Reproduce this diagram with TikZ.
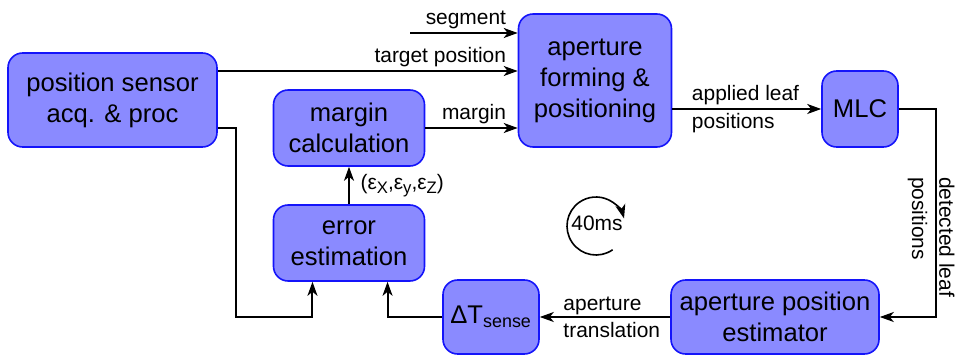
\documentclass[tikz,border=0pt]{standalone}
\usepackage{fontspec}
\setmainfont{Liberation Sans}
\usetikzlibrary{arrows.meta}

\definecolor{boxfill}{RGB}{138,138,255}
\definecolor{boxline}{RGB}{20,20,250}

\newcommand{\lowtext}[1]{\raisebox{-0.4ex}{\fontsize{12.5}{12.5}\selectfont #1}}

\tikzset{every picture/.style={line width=1.5pt}}
\tikzset{
  blockbox/.style={draw=boxline, fill=boxfill, line width=1.2pt, rounded corners=11pt, align=center, inner sep=0pt, font=\fontsize{19.2}{23.3}\selectfont},
  lbl/.style={inner sep=2pt, font=\fontsize{15.7}{20.5}\selectfont},
  flow/.style={-{Stealth[length=10.5pt,width=7.5pt,inset=3pt]}}
}

\begin{document}
\begin{tikzpicture}[x=0.75pt,y=0.75pt,yscale=-1,xscale=1]
	\useasboundingbox (0,0) rectangle (955,356);

	%Blocks
	\node[blockbox, minimum width=156.75pt, minimum height=70.5pt] (sensor) at (112.5,100) {position sensor\\acq. \& proc};
	\node[blockbox, minimum width=113.25pt, minimum height=57pt] (margin) at (349,128) {margin\\calculation};
	\node[blockbox, minimum width=114.75pt, minimum height=99.75pt] (aperture) at (595,80.5) {aperture\\forming \&\\positioning};
	\node[blockbox, minimum width=57pt, minimum height=57pt] (mlc) at (860,109) {MLC};
	\node[blockbox, minimum width=113.25pt, minimum height=57pt] (error) at (349,243) {error\\estimation};
	\node[blockbox, minimum width=72pt, minimum height=55.5pt] (deltat) at (491,317) {ΔT\textsubscript{sense}};
	\node[blockbox, minimum width=156pt, minimum height=55.5pt] (estimator) at (775,317) {aperture position\\estimator};

	%Inputs of aperture block
	\coordinate (seg) at (410,33);
	\draw[flow] (seg) -- (seg -| aperture.west) node[lbl, pos=1, anchor=south east, xshift=-6pt] {segment};
	\draw[flow] (sensor.east |- 0,71) -- (aperture.west |- 0,71) node[lbl, pos=1, anchor=south east, xshift=-6pt] {target position};
	\draw[flow] (margin.east) -- (margin.east -| aperture.west) node[lbl, pos=1, anchor=south east, xshift=-6pt] {margin};

	%Forward path
	\draw[flow] (aperture.east |- mlc.west) -- (mlc.west) node[lbl, pos=0, anchor=west, xshift=12pt, align=left] {applied leaf\\positions};
	\draw[flow] (mlc.east) -- ++(37,0) |- (estimator.east) node[lbl, pos=0.155, xshift=-3.5pt, rotate=-90, anchor=west, align=left] {detected leaf\\positions};
	\draw[flow] (estimator.west) -- (deltat.east) node[lbl, pos=1, anchor=west, xshift=15pt, align=left] {aperture\\translation};

	%Feedback into error estimation
	\draw[flow] (sensor.east |- 0,128) -- (236,128) -- (236,317) -| ([xshift=-27.4pt]error.south);
	\draw[flow] (deltat.west) -| ([xshift=28.9pt]error.south);
	\draw[flow] (error.north) -- (margin.south) node[lbl, midway, anchor=west, xshift=6pt] {(ε\lowtext{X},ε\lowtext{y},ε\lowtext{Z})};

	%Cycle time
	\node[lbl] (period) at (597,223) {40ms};
	\draw[flow, line width=1.2pt] (596,226) ++(55:29) arc[start angle=55, end angle=345, radius=29];

\end{tikzpicture}
\end{document}
